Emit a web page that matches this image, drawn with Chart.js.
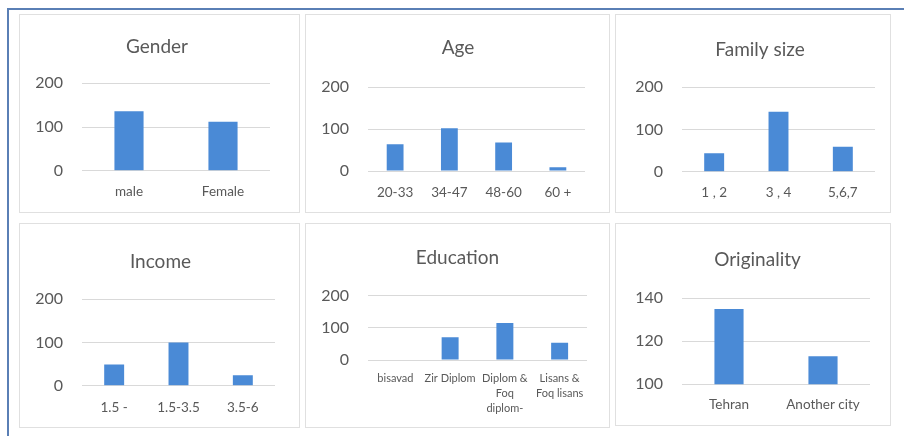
<!DOCTYPE html>
<html><head><meta charset="utf-8">
<script src="https://cdn.jsdelivr.net/npm/chart.js@4.4.1/dist/chart.umd.min.js"></script>
<style>
html,body{margin:0;padding:0;background:#fff;width:904px;height:436px;overflow:hidden;position:relative;font-family:Lato,sans-serif}
#frameTop{position:absolute;left:7px;top:8px;width:897px;height:2px;background:#5a7fb5}
#frameLeft{position:absolute;left:7px;top:8px;width:2px;height:428px;background:#5a7fb5}
.panel{position:absolute;border:1px solid #e0e0e0;background:#fff}
.panel canvas{display:block}
</style></head><body>
<div id="frameTop"></div><div id="frameLeft"></div>
<div class="panel" id="p1"><canvas id="c1"></canvas></div>
<div class="panel" id="p2"><canvas id="c2"></canvas></div>
<div class="panel" id="p3"><canvas id="c3"></canvas></div>
<div class="panel" id="p4"><canvas id="c4"></canvas></div>
<div class="panel" id="p5"><canvas id="c5"></canvas></div>
<div class="panel" id="p6"><canvas id="c6"></canvas></div>
<script>
// ---- data ----
const genderLabels = ['male', 'Female'];
const genderValues = [136, 112];
const ageLabels = ['20-33', '34-47', '48-60', '60 +'];
const ageValues = [64, 102, 68, 9];
const familyLabels = ['1 , 2', '3 , 4', '5,6,7'];
const familyValues = [44, 142, 59];
const incomeLabels = ['1.5 -', '1.5-3.5', '3.5-6'];
const incomeValues = [49, 100, 24];
const educationLabels = ['bisavad', 'Zir Diplom', ['Diplom &', 'Foq', 'diplom-'], ['Lisans &', 'Foq lisans']];
const educationValues = [0, 71, 115, 54];
const originLabels = ['Tehran', 'Another city'];
const originValues = [135, 113];
const countTicks = [0, 100, 200];
const originTicks = [100, 120, 140];

// ---- layout (absolute page coordinates) ----
const panels = {
  p1: {x: 20, y: 15, w: 279, h: 197},
  p2: {x: 306, y: 15, w: 303, h: 197},
  p3: {x: 616, y: 15, w: 274, h: 197},
  p4: {x: 20, y: 224, w: 279, h: 203},
  p5: {x: 306, y: 224, w: 303, h: 203},
  p6: {x: 616, y: 224, w: 274, h: 201}
};
const COLOR = '#4a8ad6';
const TEXT = '#595959';
const GRID = '#d9d9d9';

// keeps each chart title centred where the reference has it
const titleCenter = {
  id: 'titleCenter',
  afterLayout(chart, args, opts) {
    if (chart.titleBlock && opts.cx != null) {
      chart.titleBlock.left = opts.cx - 130;
      chart.titleBlock.right = opts.cx + 130;
    }
  }
};

function makeChart(pid, cid, title, labels, values, ticks, g) {
  const p = panels[pid];
  const el = document.getElementById(pid);
  el.style.left = (p.x - 1) + 'px'; el.style.top = (p.y - 1) + 'px';
  el.style.width = p.w + 'px'; el.style.height = p.h + 'px';
  const cv = document.getElementById(cid);
  cv.width = p.w; cv.height = p.h;
  const L = g.left - p.x, R = g.right - p.x, T = g.top - p.y, B = g.bottom - p.y;
  const tcx = g.tcx - p.x, tcy = g.tcy - p.y, lcy = g.labelCy - p.y;
  const padRight = p.w - R;
  const tfs = 19, tlh = tfs * 1.2;
  const tPadTop = tcy - tlh / 2;
  const tPadBottom = T - tPadTop - tlh;
  const xfs = g.xfs || 13.5, xlhF = g.xlh || 1.2, xlh = xfs * xlhF;
  const xPad = lcy - B - xlh / 2;
  const xH = p.h - B;
  return new Chart(cv, {
    type: 'bar',
    plugins: [titleCenter],
    data: {labels: labels, datasets: [{data: values, backgroundColor: COLOR, categoryPercentage: 1, barPercentage: 0.31}]},
    options: {
      responsive: false, animation: false,
      layout: {padding: {left: 0, right: padRight, top: 0, bottom: 0}},
      plugins: {
        legend: {display: false}, tooltip: {enabled: false},
        titleCenter: {cx: tcx},
        title: {display: true, text: title, color: TEXT, font: {family: 'Lato', size: tfs, weight: 'normal', lineHeight: 1.2},
                padding: {top: tPadTop, bottom: tPadBottom}}
      },
      scales: {
        x: {
          grid: {display: false, drawTicks: false}, border: {display: false},
          ticks: {color: TEXT, font: {family: 'Lato', size: xfs, lineHeight: xlhF}, padding: xPad, maxRotation: 0, minRotation: 0, autoSkip: false},
          afterFit: s => { s.height = xH; }
        },
        y: {
          min: ticks[0], max: ticks[ticks.length - 1],
          grid: {color: GRID, drawTicks: false, lineWidth: 1}, border: {display: false},
          ticks: {stepSize: ticks[1] - ticks[0], color: TEXT, font: {family: 'Lato', size: 16}, padding: 19},
          afterFit: s => { s.width = L; }
        }
      }
    }
  });
}

makeChart('p1', 'c1', 'Gender', genderLabels, genderValues, countTicks,
  {tcx: 157, tcy: 47, left: 82, right: 270, top: 83.3, bottom: 170.7, labelCy: 192});
makeChart('p2', 'c2', 'Age', ageLabels, ageValues, countTicks,
  {tcx: 458, tcy: 48, left: 368, right: 585, top: 87.3, bottom: 171, labelCy: 193});
makeChart('p3', 'c3', 'Family size', familyLabels, familyValues, countTicks,
  {tcx: 760, tcy: 50, left: 682, right: 875, top: 87.3, bottom: 171.7, labelCy: 193});
makeChart('p4', 'c4', 'Income', incomeLabels, incomeValues, countTicks,
  {tcx: 160.5, tcy: 261.7, left: 82, right: 275, top: 299.3, bottom: 385.7, labelCy: 407.7});
makeChart('p5', 'c5', 'Education', educationLabels, educationValues, countTicks,
  {tcx: 457.5, tcy: 258, left: 368, right: 587, top: 295.7, bottom: 360, labelCy: 378.3, xfs: 11, xlh: 1.36});
makeChart('p6', 'c6', 'Originality', originLabels, originValues, originTicks,
  {tcx: 757.5, tcy: 260, left: 682, right: 870, top: 298.3, bottom: 384.3, labelCy: 405});
</script>
</body></html>
